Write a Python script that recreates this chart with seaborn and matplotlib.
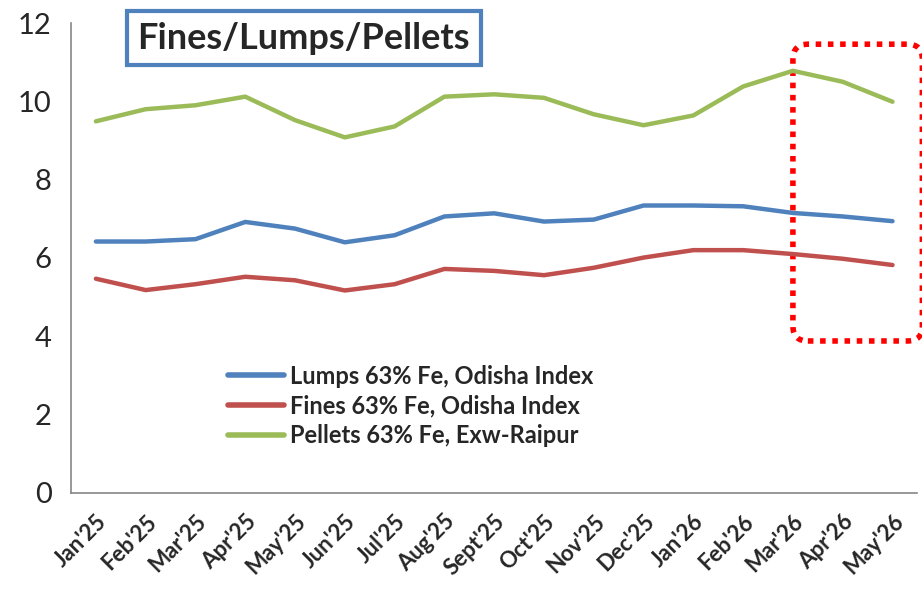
import numpy as np
import pandas as pd
import matplotlib
matplotlib.use("Agg")
import matplotlib.pyplot as plt
import seaborn as sns
from matplotlib.patches import FancyBboxPatch

months = ["Jan'25", "Feb'25", "Mar'25", "Apr'25", "May'25", "Jun'25", "Jul'25", "Aug'25",
          "Sept'25", "Oct'25", "Nov'25", "Dec'25", "Jan'26", "Feb'26", "Mar'26", "Apr'26", "May'26"]
lumps = [6.42, 6.42, 6.48, 6.92, 6.75, 6.40, 6.58, 7.06, 7.14, 6.93, 6.98, 7.34, 7.34, 7.32, 7.15, 7.06, 6.94]
fines = [5.47, 5.18, 5.33, 5.52, 5.43, 5.17, 5.33, 5.72, 5.67, 5.56, 5.75, 6.01, 6.20, 6.20, 6.10, 5.98, 5.82]
pellets = [9.49, 9.80, 9.90, 10.12, 9.52, 9.08, 9.36, 10.12, 10.18, 10.09, 9.67, 9.39, 9.64, 10.38, 10.78, 10.50, 9.99]
series_names = ["Lumps 63% Fe, Odisha Index", "Fines 63% Fe, Odisha Index", "Pellets 63% Fe, Exw-Raipur"]
colors = ["#4F81BD", "#C0504D", "#9BBB59"]

df = pd.DataFrame({
    "idx": list(range(len(months))) * 3,
    "value": lumps + fines + pellets,
    "series": sum([[n] * len(months) for n in series_names], []),
})

sns.set_style("white")
plt.rcParams['font.family'] = ['Lato', 'DejaVu Sans']

fig = plt.figure(figsize=(9.22, 5.91), dpi=100)
ax = fig.add_axes([0.077, 0.166, 0.918, 0.795])

sns.lineplot(data=df, x="idx", y="value", hue="series", palette=colors,
             hue_order=series_names, linewidth=3.2, ax=ax)

ax.set_xlim(-0.5, len(months) - 0.5)
ax.set_ylim(0, 12)
ax.set_yticks([0, 2, 4, 6, 8, 10, 12])
ax.set_xticks(range(len(months)))
ax.set_xticklabels(months, rotation=45, ha="right", rotation_mode="anchor",
                   fontsize=16, fontweight="bold")
ax.set_xticks(np.arange(-0.5, len(months)), minor=True)
ax.tick_params(axis="x", which="major", length=0, pad=13)
ax.tick_params(axis="x", which="minor", length=7, color="#868686", width=1.2, direction="out")
ax.tick_params(axis="y", length=6, color="#868686", width=1.2, direction="out", labelsize=21, pad=8)
ax.set_xlabel("")
ax.set_ylabel("")

for s in ["top", "right"]:
    ax.spines[s].set_visible(False)
for s in ["left", "bottom"]:
    ax.spines[s].set_color("#868686")
    ax.spines[s].set_linewidth(1.2)

leg = ax.legend(loc="upper left", bbox_to_anchor=(0.16, 0.318), frameon=False,
                handlelength=2.4, handletextpad=0.25, labelspacing=0.28,
                prop={"size": 17, "weight": "bold"})
for line in leg.get_lines():
    line.set_linewidth(4)

ax.text(0.275, 0.968, "Fines/Lumps/Pellets", transform=ax.transAxes, ha="center", va="center",
        fontsize=26, fontweight="bold",
        bbox=dict(boxstyle="square,pad=0.3", facecolor="white", edgecolor="#4F81BD", linewidth=3))

box = FancyBboxPatch((14.0, 3.88), 2.6, 7.58, boxstyle="round,pad=0,rounding_size=0.3",
                     mutation_aspect=1.27, fill=False, edgecolor="red", linestyle=(0, (1, 1.2)),
                     linewidth=4, clip_on=False)
ax.add_patch(box)

fig.savefig("out.png", dpi=100)
